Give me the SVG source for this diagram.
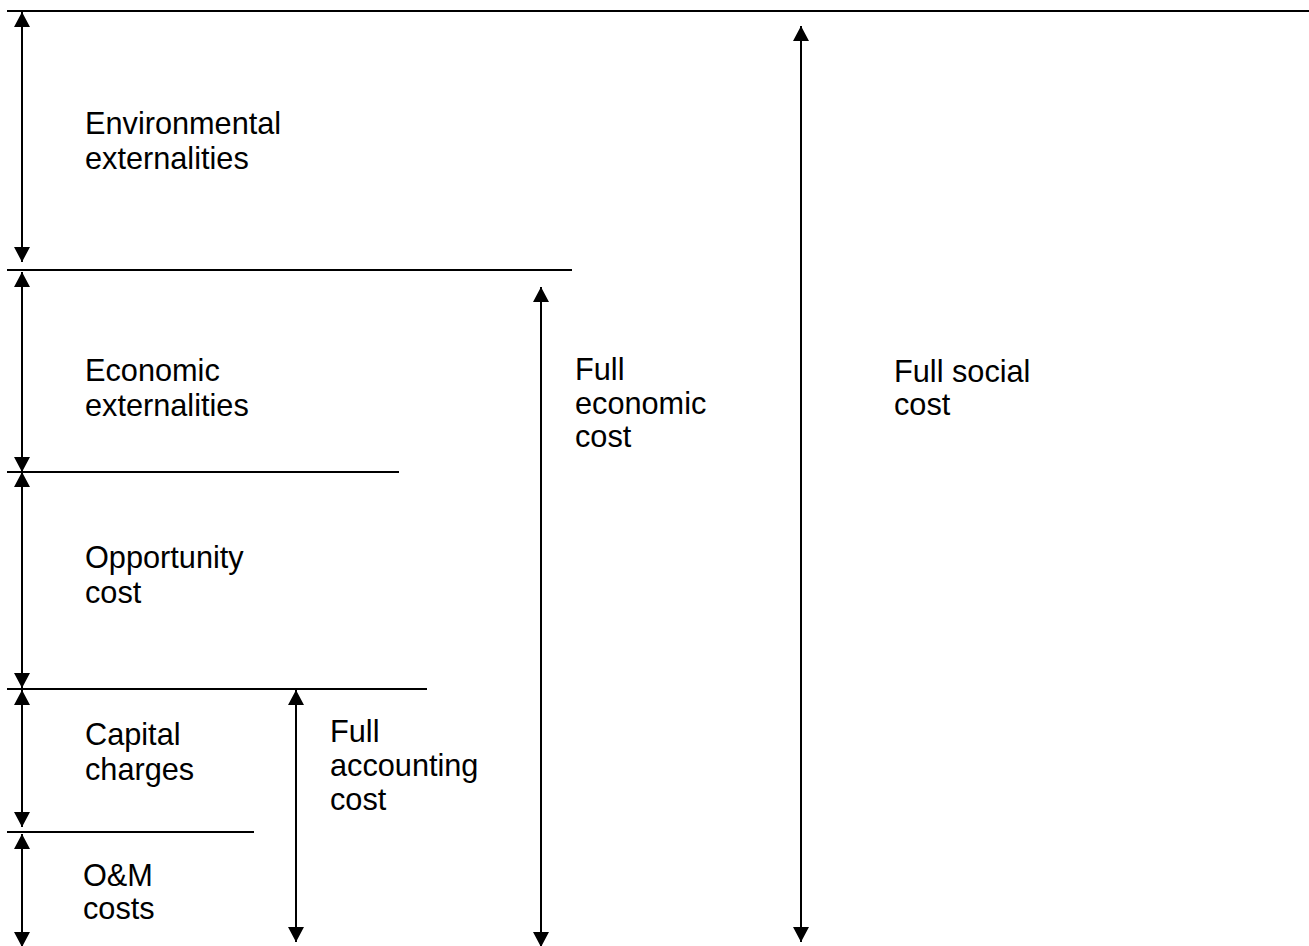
<svg xmlns="http://www.w3.org/2000/svg" width="1309" height="946" viewBox="0 0 1309 946">
  <defs>
    <marker id="ah" viewBox="0 0 15 16" refX="15" refY="8" markerWidth="15" markerHeight="16" markerUnits="userSpaceOnUse" orient="auto-start-reverse">
      <path d="M0,0 L15,8 L0,16 z" fill="#000"/>
    </marker>
    <style>
      .lvl { stroke: #000; stroke-width: 2; fill: none; }
      .arr { stroke: #000; stroke-width: 2; fill: none; marker-start: url(#ah); marker-end: url(#ah); }
      .t { font-family: "Liberation Sans", Arial, sans-serif; font-size: 30.7px; fill: #000; }
    </style>
  </defs>
  <rect width="1309" height="946" fill="#fff"/>
  <g id="levels">
    <line class="lvl" x1="7" y1="11" x2="1309" y2="11"/>
    <line class="lvl" x1="7" y1="270" x2="572" y2="270"/>
    <line class="lvl" x1="7" y1="472" x2="399" y2="472"/>
    <line class="lvl" x1="7" y1="689" x2="427" y2="689"/>
    <line class="lvl" x1="7" y1="832" x2="254" y2="832"/>
  </g>
  <g id="connectors">
    <line class="arr" x1="22" y1="12" x2="22" y2="262"/>
    <line class="arr" x1="22" y1="272" x2="22" y2="472"/>
    <line class="arr" x1="22" y1="472" x2="22" y2="688"/>
    <line class="arr" x1="22" y1="690" x2="22" y2="827"/>
    <line class="arr" x1="22" y1="834" x2="22" y2="947"/>
    <line class="arr" x1="296" y1="690" x2="296" y2="942"/>
    <line class="arr" x1="541" y1="287" x2="541" y2="947"/>
    <line class="arr" x1="801" y1="26" x2="801" y2="942"/>
  </g>
  <g id="environmental">
    <text class="t" x="85" y="134">Environmental</text>
    <text class="t" x="85" y="169">externalities</text>
  </g>
  <g id="economic">
    <text class="t" x="85" y="381">Economic</text>
    <text class="t" x="85" y="416">externalities</text>
  </g>
  <g id="opportunity">
    <text class="t" x="85" y="568">Opportunity</text>
    <text class="t" x="85" y="603">cost</text>
  </g>
  <g id="capital">
    <text class="t" x="85" y="745">Capital</text>
    <text class="t" x="85" y="780">charges</text>
  </g>
  <g id="om">
    <text class="t" x="83" y="886">O&amp;M</text>
    <text class="t" x="83" y="919">costs</text>
  </g>
  <g id="full-accounting">
    <text class="t" x="330" y="742">Full</text>
    <text class="t" x="330" y="776">accounting</text>
    <text class="t" x="330" y="810">cost</text>
  </g>
  <g id="full-economic">
    <text class="t" x="575" y="380">Full</text>
    <text class="t" x="575" y="414">economic</text>
    <text class="t" x="575" y="447">cost</text>
  </g>
  <g id="full-social">
    <text class="t" x="894" y="382">Full social</text>
    <text class="t" x="894" y="415">cost</text>
  </g>
</svg>
